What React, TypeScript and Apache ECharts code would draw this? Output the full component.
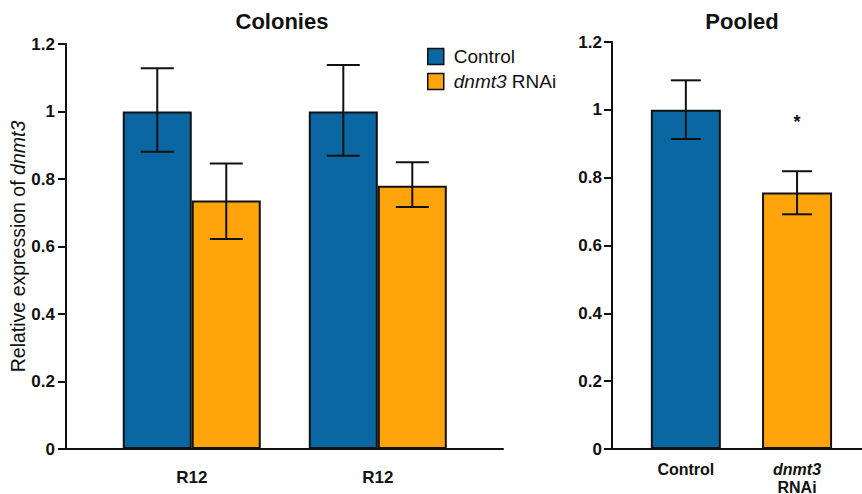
import React, { useEffect, useRef } from "react";
import * as echarts from "echarts";

// ---- data ----
const colonyCategories = ["R12", "R12"];
const colonyControl = [1.0, 1.0];
const colonyControlLow = [0.881, 0.869];
const colonyControlHigh = [1.128, 1.138];
const colonyRnai = [0.736, 0.78];
const colonyRnaiLow = [0.622, 0.717];
const colonyRnaiHigh = [0.846, 0.85];

const pooledCategories = ["Control", "dnmt3 RNAi"];
const pooledValues = [1.0, 0.756];
const pooledLow = [0.914, 0.692];
const pooledHigh = [1.087, 0.819];
const pooledSignificance = ["", "*"];
const pooledSignificanceLevel = [0, 0.965];

const seriesNames = ["Control", "dnmt3 RNAi"];
const yTickMin = 0;
const yTickMax = 1.2;
const yTickStep = 0.2;

const BLUE = "#0A67A2";
const ORANGE = "#FFA40A";
const INK = "#111111";
const FONT = "Liberation Sans, Arial, Helvetica, sans-serif";

export default function App() {
  const ref = useRef<HTMLDivElement>(null);

  useEffect(() => {
    if (!ref.current) return;
    const chart = echarts.init(ref.current, null, { renderer: "svg" });

    const colonyPos = colonyCategories.map((_, i) => i + 1);
    const pooledPos = pooledCategories.map((_, i) => i + 1);
    const colonyBarW = 69;
    const pooledBarW = 70;

    const errRender = (offset: number, capW: number, withSig: boolean) =>
      (params: any, api: any) => {
        const x = api.value(0);
        const lo = api.value(1);
        const hi = api.value(2);
        const top = api.coord([x, hi]);
        const bot = api.coord([x, lo]);
        const cx = top[0] + offset;
        const st = { stroke: INK, lineWidth: 2 };
        const children: any[] = [
          { type: "line", shape: { x1: cx, y1: top[1], x2: cx, y2: bot[1] }, style: st },
          { type: "line", shape: { x1: cx - capW / 2, y1: top[1], x2: cx + capW / 2, y2: top[1] }, style: st },
          { type: "line", shape: { x1: cx - capW / 2, y1: bot[1], x2: cx + capW / 2, y2: bot[1] }, style: st },
        ];
        if (withSig) {
          const sig = pooledSignificance[params.dataIndex];
          if (sig) {
            const p = api.coord([x, pooledSignificanceLevel[params.dataIndex]]);
            children.push({
              type: "text",
              style: {
                text: sig,
                x: cx,
                y: p[1],
                align: "center",
                verticalAlign: "middle",
                fontSize: 18,
                fontWeight: "bold",
                fontFamily: FONT,
                fill: INK,
              },
            });
          }
        }
        return { type: "group", children };
      };

    const yAxisBase = {
      type: "value",
      min: yTickMin,
      max: yTickMax,
      interval: yTickStep,
      splitLine: { show: false },
      axisLine: { show: true, lineStyle: { color: INK, width: 2 } },
      axisTick: { show: true, length: 8, lineStyle: { color: INK, width: 2 } },
    };

    const option: any = {
      animation: false,
      backgroundColor: "#ffffff",
      title: [
        {
          text: "Colonies",
          left: 277,
          top: 5,
          textAlign: "center",
          textStyle: { fontFamily: FONT, fontSize: 22, fontWeight: "bold", color: INK },
        },
        {
          text: "Pooled",
          left: 737,
          top: 5,
          textAlign: "center",
          textStyle: { fontFamily: FONT, fontSize: 22, fontWeight: "bold", color: INK },
        },
      ],
      legend: {
        data: seriesNames,
        orient: "vertical",
        left: 427,
        top: 47,
        padding: 0,
        itemWidth: 16,
        itemHeight: 16,
        itemGap: 6,
        icon: "rect",
        itemStyle: { borderColor: INK, borderWidth: 1.5 },
        formatter: (name: string) => (name === "dnmt3 RNAi" ? "{i|dnmt3} RNAi" : name),
        textStyle: {
          fontFamily: FONT,
          fontSize: 19,
          color: INK,
          padding: [0, 0, 0, 5],
          rich: { i: { fontFamily: FONT, fontSize: 19, fontStyle: "italic", color: INK } },
        },
      },
      grid: [
        { left: 66, top: 44, width: 437, height: 405, outerBoundsMode: "none", containLabel: false },
        { left: 612, top: 42, width: 250, height: 407, outerBoundsMode: "none", containLabel: false },
      ],
      xAxis: [
        {
          type: "value",
          gridIndex: 0,
          min: 0.324,
          max: 2.673,
          splitLine: { show: false },
          axisLine: { show: true, lineStyle: { color: INK, width: 2 } },
          axisTick: { show: false },
          axisLabel: {
            customValues: colonyPos,
            margin: 20,
            fontFamily: FONT,
            fontSize: 17,
            fontWeight: "bold",
            color: INK,
            formatter: (v: number) => colonyCategories[Math.round(v) - 1] ?? "",
          },
        },
        {
          type: "value",
          gridIndex: 1,
          min: 0.336,
          max: 2.584,
          splitLine: { show: false },
          axisLine: { show: true, lineStyle: { color: INK, width: 2 } },
          axisTick: { show: false },
          axisLabel: {
            customValues: pooledPos,
            margin: 11,
            fontFamily: FONT,
            fontSize: 16,
            fontWeight: "bold",
            color: INK,
            lineHeight: 18,
            formatter: (v: number) => {
              const n = pooledCategories[Math.round(v) - 1] ?? "";
              return n === "dnmt3 RNAi" ? "{i|dnmt3}\n{b|RNAi}" : n;
            },
            rich: {
              i: { fontFamily: FONT, fontSize: 16, fontWeight: "bold", fontStyle: "italic", color: INK, lineHeight: 18 },
              b: { fontFamily: FONT, fontSize: 16, fontWeight: "bold", color: INK, lineHeight: 18 },
            },
          },
        },
      ],
      yAxis: [
        {
          ...yAxisBase,
          gridIndex: 0,
          name: "{n|Relative expression of }{i|dnmt3}",
          nameLocation: "middle",
          nameGap: 38,
          nameMoveOverlap: false,
          nameTextStyle: {
            rich: {
              n: { fontFamily: FONT, fontSize: 19.5, color: INK },
              i: { fontFamily: FONT, fontSize: 19.5, fontStyle: "italic", color: INK },
            },
          },
          axisLabel: { margin: 11, fontFamily: FONT, fontSize: 17, fontWeight: "bold", color: INK },
        },
        {
          ...yAxisBase,
          gridIndex: 1,
          axisLabel: { margin: 10, fontFamily: FONT, fontSize: 17, fontWeight: "bold", color: INK },
        },
      ],
      series: [
        {
          name: seriesNames[0],
          type: "bar",
          xAxisIndex: 0,
          yAxisIndex: 0,
          barWidth: colonyBarW,
          barGap: "0%",
          itemStyle: { color: BLUE, borderColor: INK, borderWidth: 2 },
          data: colonyPos.map((p, i) => [p, colonyControl[i]]),
          z: 2,
        },
        {
          name: seriesNames[1],
          type: "bar",
          xAxisIndex: 0,
          yAxisIndex: 0,
          barWidth: colonyBarW,
          barGap: "0%",
          itemStyle: { color: ORANGE, borderColor: INK, borderWidth: 2 },
          data: colonyPos.map((p, i) => [p, colonyRnai[i]]),
          z: 2,
        },
        {
          name: "err-control",
          type: "custom",
          xAxisIndex: 0,
          yAxisIndex: 0,
          renderItem: errRender(-colonyBarW / 2, 33, false),
          encode: { x: 0, y: [1, 2] },
          data: colonyPos.map((p, i) => [p, colonyControlLow[i], colonyControlHigh[i]]),
          z: 5,
        },
        {
          name: "err-rnai",
          type: "custom",
          xAxisIndex: 0,
          yAxisIndex: 0,
          renderItem: errRender(colonyBarW / 2, 33, false),
          encode: { x: 0, y: [1, 2] },
          data: colonyPos.map((p, i) => [p, colonyRnaiLow[i], colonyRnaiHigh[i]]),
          z: 5,
        },
        {
          name: "Pooled",
          type: "bar",
          xAxisIndex: 1,
          yAxisIndex: 1,
          barWidth: pooledBarW,
          data: pooledPos.map((p, i) => ({
            value: [p, pooledValues[i]],
            itemStyle: { color: i === 0 ? BLUE : ORANGE, borderColor: INK, borderWidth: 2 },
          })),
          z: 2,
        },
        {
          name: "err-pooled",
          type: "custom",
          xAxisIndex: 1,
          yAxisIndex: 1,
          renderItem: errRender(0, 30, true),
          encode: { x: 0, y: [1, 2] },
          data: pooledPos.map((p, i) => [p, pooledLow[i], pooledHigh[i]]),
          z: 5,
        },
      ],
    };

    chart.setOption(option);
    return () => chart.dispose();
  }, []);

  return (
    <div
      ref={ref}
      style={{ position: "fixed", left: 0, top: 0, width: 862, height: 494, background: "#fff" }}
    />
  );
}
